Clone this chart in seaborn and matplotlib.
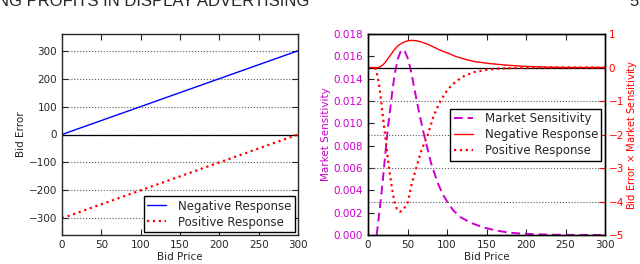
import numpy as np
import matplotlib
matplotlib.use('Agg')
import matplotlib.pyplot as plt
from matplotlib.ticker import FormatStrFormatter
from matplotlib.lines import Line2D
import seaborn as sns

# ---- left panel: bid error against bid price -------------------------------
lin_price = [0, 300]
neg_error = [0, 300]
pos_error = [-300, 0]

# ---- right panel: market sensitivity and weighted bid error ----------------
ms_price = [11, 14, 17.5, 21.6, 25, 28, 31, 34, 38, 41, 44, 47, 51, 55, 59,
            64, 69.5, 75, 80, 88, 95, 101, 108, 117, 130, 145, 162, 180,
            200, 230, 260, 300]
ms_value = [0.0, 0.0018, 0.004, 0.007, 0.0095, 0.0112, 0.013, 0.0145,
            0.0158, 0.0164, 0.0166, 0.0164, 0.0157, 0.0145, 0.013, 0.0112,
            0.0094, 0.0078, 0.0064, 0.0047, 0.0036, 0.0029, 0.0022, 0.0016,
            0.0011, 0.0007, 0.0004, 0.0002, 0.0001, 0.00003, 0.00001, 0.0]

nr_price = [0, 13, 16, 19, 22, 26, 30, 34, 38, 43, 49, 55, 61, 68, 76, 84,
            92, 101, 111, 122, 134, 153, 175, 195, 220, 250, 300]
nr_value = [0, 0, 0.03, 0.08, 0.16, 0.29, 0.42, 0.55, 0.65, 0.73, 0.79,
            0.81, 0.80, 0.76, 0.69, 0.60, 0.51, 0.43, 0.33, 0.25, 0.18,
            0.12, 0.07, 0.04, 0.015, 0.0, 0.0]

pr_price = [9, 12, 14.5, 16.6, 19, 21.6, 24, 26.6, 30, 33.3, 36.5, 40.4, 44,
            47.5, 50.8, 55, 61, 68, 75.8, 83, 91.6, 101, 111, 122, 134, 150,
            165, 185, 210, 240, 300]
pr_value = [0, -0.25, -0.6, -1.0, -1.5, -2.0, -2.5, -3.0, -3.55, -4.0,
            -4.22, -4.31, -4.25, -4.15, -4.0, -3.5, -3.0, -2.45, -2.0,
            -1.45, -1.0, -0.65, -0.42, -0.25, -0.14, -0.07, -0.035, -0.015,
            -0.005, 0, 0]

MAG = '#CC00CC'
RED = '#FF0000'
BLUE = '#0000FF'

sns.set_style('ticks')
plt.rcParams['font.family'] = ['DejaVu Sans']
plt.rcParams['axes.linewidth'] = 1.0

fig = plt.figure(figsize=(6.4, 2.64), dpi=100)
W, H = 640.0, 264.0
ax1 = fig.add_axes([62 / W, 29 / H, 236 / W, 201 / H])
ax3 = fig.add_axes([368 / W, 29 / H, 237 / W, 201 / H])

TICK = 7.5
LAB = 7.5
LEG = 8.5

# ---------------- left panel ----------------
sns.lineplot(x=lin_price, y=neg_error, ax=ax1, color=BLUE, lw=1.0,
             label='Negative Response', legend=False)
sns.lineplot(x=lin_price, y=pos_error, ax=ax1, color=RED, lw=1.6,
             linestyle=':', label='Positive Response', legend=False)
ax1.axhline(0, color='k', lw=0.9, zorder=1)
ax1.set_xlim(0, 300)
ax1.set_ylim(-360, 360)
ax1.set_xticks(range(0, 301, 50))
ax1.set_yticks(range(-300, 301, 100))
ax1.yaxis.grid(True, linestyle=':', color='0.35', lw=0.8)
ax1.tick_params(direction='in', top=True, right=True, length=4,
                labelsize=TICK, width=0.8)
ax1.set_xlabel('Bid Price', fontsize=LAB, labelpad=1.5)
ax1.set_ylabel('Bid Error', fontsize=LAB, labelpad=2)
leg1 = ax1.legend(loc='lower right', fontsize=LEG, frameon=True,
                  fancybox=False, framealpha=1, edgecolor='k',
                  borderaxespad=0.25, handlelength=1.6, handletextpad=1.0,
                  borderpad=0.3, labelspacing=0.25)
leg1.get_frame().set_linewidth(1.0)

# ---------------- right panel ----------------
sns.lineplot(x=ms_price, y=ms_value, ax=ax3, color=MAG, lw=1.4,
             linestyle=(0, (4.5, 2.5)), legend=False)
ax3.set_xlim(0, 300)
ax3.set_ylim(0, 0.018)
ax3.set_xticks(range(0, 301, 50))
ax3.set_yticks(np.arange(0, 0.0181, 0.002))
ax3.yaxis.set_major_formatter(FormatStrFormatter('%.3f'))
ax3.tick_params(direction='in', top=True, right=False, length=4,
                labelsize=TICK, width=0.8)
ax3.tick_params(axis='y', labelcolor=MAG)
ax3.set_xlabel('Bid Price', fontsize=LAB, labelpad=1.5)
ax3.set_ylabel('Market Sensitivity', fontsize=LAB, color=MAG, labelpad=2)

ax4 = ax3.twinx()
ax4.axhline(0, color='k', lw=0.9, zorder=1)
sns.lineplot(x=nr_price, y=nr_value, ax=ax4, color=RED, lw=1.0,
             legend=False)
sns.lineplot(x=pr_price, y=pr_value, ax=ax4, color=RED, lw=1.6,
             linestyle=':', legend=False)
ax4.set_ylim(-5, 1)
ax4.set_yticks(range(-5, 2))
ax4.yaxis.grid(True, linestyle=':', color='0.35', lw=0.8)
ax4.tick_params(direction='in', length=4, labelsize=TICK, width=0.8,
                colors=RED, pad=2.5)
ax4.set_ylabel('Bid Error $\\times$ Market Sensitivity', fontsize=7.2,
               color=RED, labelpad=0.5)
for sp in ax4.spines.values():
    sp.set_color('k')

handles = [Line2D([], [], color=MAG, lw=1.4, linestyle=(0, (4.5, 2.5))),
           Line2D([], [], color=RED, lw=1.0),
           Line2D([], [], color=RED, lw=1.6, linestyle=':')]
labels = ['Market Sensitivity', 'Negative Response', 'Positive Response']
leg2 = ax4.legend(handles, labels, loc='lower right',
                  bbox_to_anchor=(0.985, 0.37), fontsize=LEG, frameon=True,
                  fancybox=False, framealpha=1, edgecolor='k',
                  borderaxespad=0, handlelength=1.6, handletextpad=1.0,
                  borderpad=0.3, labelspacing=0.25)
leg2.get_frame().set_linewidth(1.0)

# cropped page header
fig.text(-3 / W, 1 - 5.5 / H, 'NG PROFITS IN DISPLAY ADVERTISING',
         fontsize=12, family='Liberation Sans', va='baseline')
fig.text(629 / W, 1 - 5.5 / H, '5', fontsize=12,
         family='Liberation Sans', va='baseline')

fig.savefig('out.png', dpi=100)
